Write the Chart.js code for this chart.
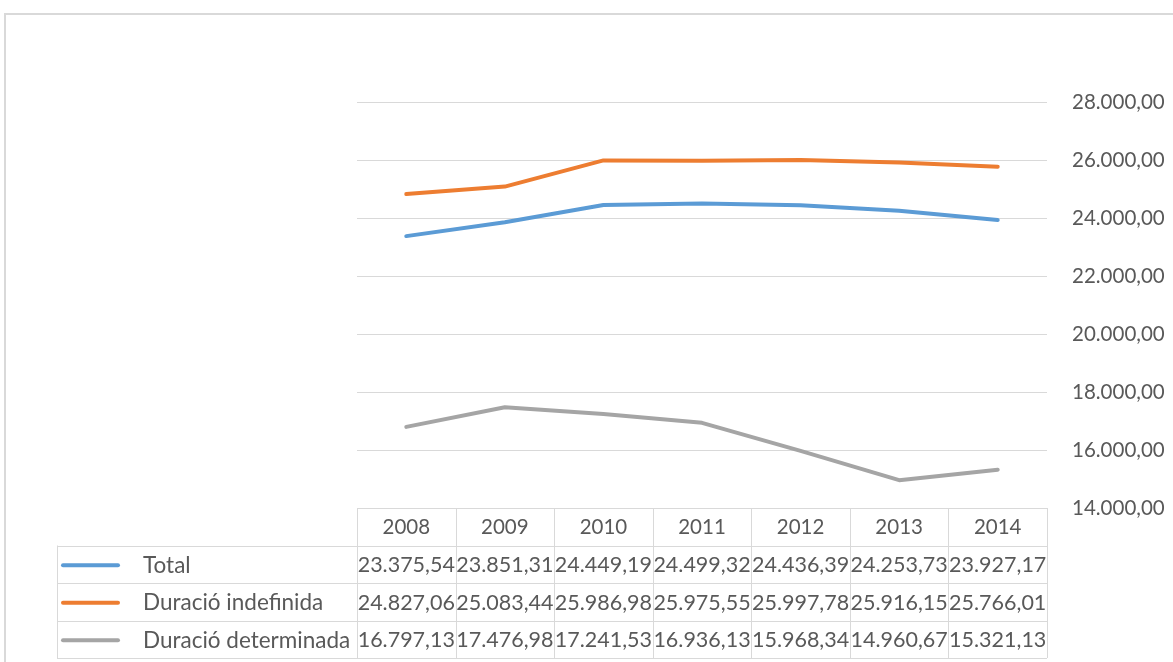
<!DOCTYPE html>
<html>
<head>
<meta charset="utf-8">
<script src="https://cdn.jsdelivr.net/npm/chart.js@4/dist/chart.umd.min.js"></script>
<style>
  html, body { margin: 0; padding: 0; background: #fff; }
  canvas { display: block; }
</style>
</head>
<body>
<canvas id="grafic" width="1173" height="662"></canvas>
<script>
// dades
const anys = ['2008', '2009', '2010', '2011', '2012', '2013', '2014'];
const total = [23375.54, 23851.31, 24449.19, 24499.32, 24436.39, 24253.73, 23927.17];
const indefinida = [24827.06, 25083.44, 25986.98, 25975.55, 25997.78, 25916.15, 25766.01];
const determinada = [16797.13, 17476.98, 17241.53, 16936.13, 15968.34, 14960.67, 15321.13];
const nomsSeries = ['Total', 'Duració indefinida', 'Duració determinada'];
const colors = ['#5B9BD5', '#ED7D31', '#A5A5A5'];
const eixY = { min: 14000, max: 28000, pas: 2000 };

const colorText = '#595959';
const colorLinia = '#D9D9D9';
const fontFamily = 'Lato, "Open Sans", sans-serif';

// format 23.375,54
function fmt(v) {
  const parts = v.toFixed(2).split('.');
  const ent = parts[0].replace(/\B(?=(\d{3})+(?!\d))/g, '.');
  return ent + ',' + parts[1];
}

// marc exterior + taula de dades sota el gràfic
const taulaPlugin = {
  id: 'taula',
  beforeDraw(chart) {
    const ctx = chart.ctx;
    ctx.save();
    ctx.strokeStyle = colorLinia;
    ctx.lineWidth = 2;
    ctx.beginPath();
    ctx.moveTo(5, chart.height);
    ctx.lineTo(5, 14);
    ctx.lineTo(chart.width, 14);
    ctx.stroke();
    ctx.restore();
  },
  afterDraw(chart) {
    const ctx = chart.ctx;
    const area = chart.chartArea;
    const x = chart.scales.x;
    const n = anys.length;
    const amplada = (area.right - area.left) / n;
    const alt = 37.5;
    const top = area.bottom;
    const esquerra = 57;
    const dades = chart.data.datasets;

    ctx.save();
    ctx.strokeStyle = colorLinia;
    ctx.lineWidth = 1;

    // línies horitzontals
    ctx.beginPath();
    ctx.moveTo(area.left, top + 0.5);
    ctx.lineTo(area.right, top + 0.5);
    for (let r = 1; r <= dades.length + 1; r++) {
      const y = Math.round(top + r * alt) + 0.5;
      ctx.moveTo(esquerra, y);
      ctx.lineTo(area.right, y);
    }
    // línies verticals
    for (let c = 0; c <= n; c++) {
      const xx = Math.round(area.left + c * amplada) + 0.5;
      ctx.moveTo(xx, top);
      ctx.lineTo(xx, top + (dades.length + 1) * alt);
    }
    ctx.moveTo(esquerra + 0.5, top + alt);
    ctx.lineTo(esquerra + 0.5, top + (dades.length + 1) * alt);
    ctx.stroke();

    // capçalera anys
    ctx.fillStyle = colorText;
    ctx.textAlign = 'center';
    ctx.textBaseline = 'middle';
    ctx.font = '20.5px ' + fontFamily;
    anys.forEach((a, i) => {
      ctx.fillText(a, x.getPixelForValue(i), top + alt / 2 + 1);
    });

    // files
    dades.forEach((ds, r) => {
      const yc = top + (r + 1) * alt + alt / 2 + 1;
      ctx.strokeStyle = ds.borderColor;
      ctx.lineWidth = 4;
      ctx.lineCap = 'round';
      ctx.beginPath();
      ctx.moveTo(63, yc);
      ctx.lineTo(118, yc);
      ctx.stroke();

      ctx.fillStyle = colorText;
      ctx.textAlign = 'left';
      ctx.font = '22.5px ' + fontFamily;
      ctx.fillText(ds.label, 143, yc);

      ctx.textAlign = 'center';
      ctx.font = '21.5px ' + fontFamily;
      ds.data.forEach((v, i) => {
        ctx.fillText(fmt(v), x.getPixelForValue(i), yc);
      });
    });
    ctx.restore();
  }
};

new Chart('grafic', {
  type: 'line',
  data: {
    labels: anys,
    datasets: [
      { label: nomsSeries[0], data: total, borderColor: colors[0] },
      { label: nomsSeries[1], data: indefinida, borderColor: colors[1] },
      { label: nomsSeries[2], data: determinada, borderColor: colors[2] }
    ]
  },
  options: {
    responsive: false,
    devicePixelRatio: 1,
    animation: false,
    layout: { padding: { left: 357, top: 102, bottom: 154, right: 0 } },
    elements: {
      line: { borderWidth: 4, tension: 0, borderCapStyle: 'round', borderJoinStyle: 'round' },
      point: { radius: 0, hoverRadius: 0 }
    },
    plugins: {
      legend: { display: false },
      tooltip: { enabled: false }
    },
    scales: {
      x: { display: false, offset: true },
      y: {
        position: 'right',
        min: eixY.min,
        max: eixY.max,
        afterFit(scale) { scale.width = 126; },
        ticks: {
          stepSize: eixY.pas,
          padding: 25,
          color: colorText,
          font: { family: fontFamily, size: 20.5 },
          callback: (v) => fmt(v)
        },
        grid: { color: colorLinia, lineWidth: 1, drawTicks: false },
        border: { display: false }
      }
    }
  },
  plugins: [taulaPlugin]
});
</script>
</body>
</html>
